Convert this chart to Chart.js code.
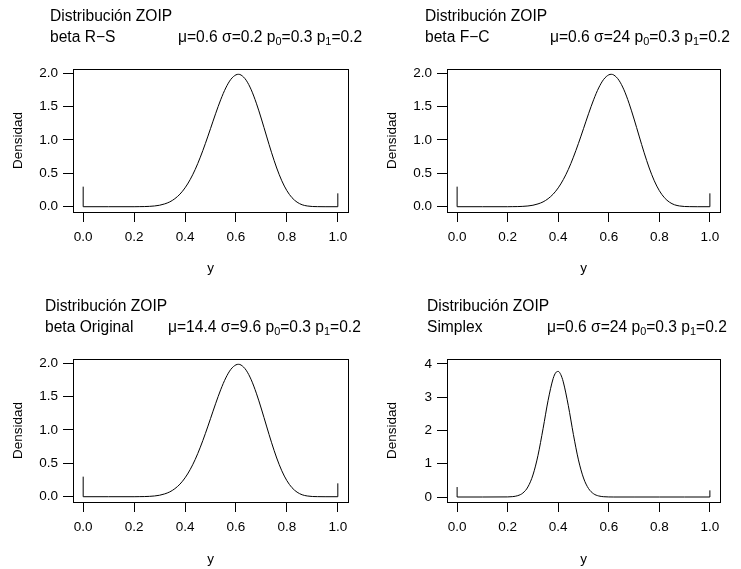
<!DOCTYPE html>
<html>
<head>
<meta charset="utf-8">
<script src="https://cdn.jsdelivr.net/npm/chart.js@4.4.1/dist/chart.umd.min.js"></script>
<style>
  body { margin: 0; background: #fff; width: 741px; height: 569px; position: relative; overflow: hidden; }
  canvas { position: absolute; }
</style>
</head>
<body>
<canvas id="p1" width="370" height="279" style="left:0px;top:0px"></canvas>
<canvas id="p2" width="367" height="279" style="left:374px;top:0px"></canvas>
<canvas id="p3" width="370" height="279" style="left:0px;top:290px"></canvas>
<canvas id="p4" width="367" height="279" style="left:374px;top:290px"></canvas>
<script>
// density curves
var gridBeta = [0, 0.1, 0.2, 0.22, 0.24, 0.26, 0.28, 0.3, 0.32, 0.34, 0.36, 0.38, 0.4, 0.42, 0.44, 0.46, 0.48, 0.5,
  0.52, 0.54, 0.56, 0.58, 0.6, 0.61, 0.62, 0.64, 0.66, 0.68, 0.7, 0.72, 0.74, 0.76, 0.78, 0.8, 0.82, 0.84, 0.86,
  0.88, 0.9, 0.92, 0.95, 1];
var densBeta = [0, 0, 0.000, 0.001, 0.002, 0.005, 0.011, 0.022, 0.042, 0.072, 0.120, 0.188, 0.282, 0.405, 0.558, 0.741,
  0.947, 1.168, 1.391, 1.600, 1.777, 1.906, 1.973, 1.981, 1.970, 1.893, 1.749, 1.549, 1.312, 1.057, 0.807, 0.579,
  0.388, 0.240, 0.135, 0.068, 0.029, 0.011, 0.003, 0.001, 0, 0];

var gridSimplex = [0, 0.1, 0.2, 0.22, 0.24, 0.26, 0.28, 0.3, 0.32, 0.34, 0.36, 0.38, 0.39, 0.4, 0.41, 0.42, 0.44,
  0.46, 0.48, 0.5, 0.52, 0.54, 0.56, 0.58, 0.6, 0.62, 0.7, 0.8, 0.9, 1];
var densSimplex = [0, 0, 0.003, 0.012, 0.041, 0.119, 0.302, 0.662, 1.253, 2.053, 2.909, 3.564, 3.737, 3.777, 3.682,
  3.462, 2.745, 1.882, 1.116, 0.572, 0.254, 0.097, 0.032, 0.009, 0.002, 0, 0, 0, 0, 0];

// point masses at 0 and 1
var p0 = 0.3;
var p1 = 0.2;

var xTicks = [0, 0.2, 0.4, 0.6, 0.8, 1];
var yTicksBeta = [0, 0.5, 1, 1.5, 2];
var yTicksSimplex = [0, 1, 2, 3, 4];

var familyNames = ['beta R\u2212S', 'beta F\u2212C', 'beta Original', 'Simplex'];
var muVals = ['0.6', '0.6', '14.4', '0.6'];
var sigmaVals = ['0.2', '24', '9.6', '24'];

Chart.defaults.font.family = "'Liberation Sans', Arial, Helvetica, sans-serif";
Chart.defaults.font.size = 13.5;
Chart.defaults.color = '#000';

var boxAndTitle = {
  id: 'boxAndTitle',
  afterDraw: function (chart, args, o) {
    var ctx = chart.ctx, a = chart.chartArea;
    ctx.save();
    ctx.strokeStyle = '#000';
    ctx.lineWidth = 1;
    ctx.strokeRect(Math.round(a.left) + 0.5, Math.round(a.top) + 0.5,
      Math.round(a.right - a.left), Math.round(a.bottom - a.top));

    var big = "15.6px 'Liberation Sans', Arial, sans-serif";
    var small = "10.9px 'Liberation Sans', Arial, sans-serif";
    ctx.fillStyle = '#000';
    ctx.textBaseline = 'alphabetic';
    ctx.textAlign = 'left';
    ctx.font = big;
    ctx.fillText('Distribuci\u00f3n ZOIP', o.tx, 21);
    ctx.fillText(o.family, o.tx, 41.7);

    var parts = [
      ['\u03bc=' + o.mu + ' \u03c3=' + o.sigma + ' p', false],
      ['0', true],
      ['=' + p0 + ' p', false],
      ['1', true],
      ['=' + p1, false]
    ];
    var x = o.px;
    parts.forEach(function (pt) {
      ctx.font = pt[1] ? small : big;
      ctx.fillText(pt[0], x, pt[1] ? 45 : 41.7);
      x += ctx.measureText(pt[0]).width;
    });
    ctx.restore();
  }
};

function makePanel(id, grid, dens, yMin, yMax, yTicks, digits, padRight, xTitlePad, title) {
  var curve = grid.map(function (g, i) { return {x: g, y: dens[i]}; });
  new Chart(document.getElementById(id), {
    type: 'scatter',
    data: {
      datasets: [
        {data: curve, showLine: true, borderColor: '#000', borderWidth: 1, pointRadius: 0,
          cubicInterpolationMode: 'monotone'},
        {data: [{x: 0, y: 0}, {x: 0, y: p0}], showLine: true, borderColor: '#000', borderWidth: 1, pointRadius: 0},
        {data: [{x: 1, y: 0}, {x: 1, y: p1}], showLine: true, borderColor: '#000', borderWidth: 1, pointRadius: 0}
      ]
    },
    options: {
      responsive: false,
      animation: false,
      devicePixelRatio: 1,
      layout: {padding: {top: 69, right: padRight, left: 0, bottom: 0}},
      plugins: {legend: {display: false}, tooltip: {enabled: false}, boxAndTitle: title},
      scales: {
        x: {
          type: 'linear', min: -0.04, max: 1.04,
          afterBuildTicks: function (s) { s.ticks = xTicks.map(function (v) { return {value: v}; }); },
          afterFit: function (s) { s.height = 67; },
          grid: {drawOnChartArea: false, drawTicks: true, tickLength: 10, color: '#000'},
          border: {display: false},
          ticks: {padding: 7.4, maxRotation: 0, autoSkip: false,
            callback: function (v) { return v.toFixed(1); }},
          title: {display: true, text: 'y', padding: {top: 0, bottom: xTitlePad}}
        },
        y: {
          type: 'linear', min: yMin, max: yMax,
          afterBuildTicks: function (s) { s.ticks = yTicks.map(function (v) { return {value: v}; }); },
          afterFit: function (s) { s.width = 73; },
          grid: {drawOnChartArea: false, drawTicks: true, tickLength: 10, color: '#000'},
          border: {display: false},
          ticks: {padding: 5, autoSkip: false,
            callback: function (v) { return v.toFixed(digits); }},
          title: {display: true, text: 'Densidad', padding: {top: 9.9, bottom: 0}}
        }
      }
    },
    plugins: [boxAndTitle]
  });
}

makePanel('p1', gridBeta, densBeta, -0.0792, 2.0604, yTicksBeta, 1, 22, 2.5,
  {tx: 50, px: 178, family: familyNames[0], mu: muVals[0], sigma: sigmaVals[0]});
makePanel('p2', gridBeta, densBeta, -0.0792, 2.0604, yTicksBeta, 1, 21, 2.5,
  {tx: 51, px: 176, family: familyNames[1], mu: muVals[1], sigma: sigmaVals[1]});
makePanel('p3', gridBeta, densBeta, -0.0792, 2.0604, yTicksBeta, 1, 22, 1.5,
  {tx: 45, px: 168, family: familyNames[2], mu: muVals[2], sigma: sigmaVals[2]});
makePanel('p4', gridSimplex, densSimplex, -0.15, 4.15, yTicksSimplex, 0, 21, 1.5,
  {tx: 53, px: 173, family: familyNames[3], mu: muVals[3], sigma: sigmaVals[3]});
</script>
</body>
</html>
